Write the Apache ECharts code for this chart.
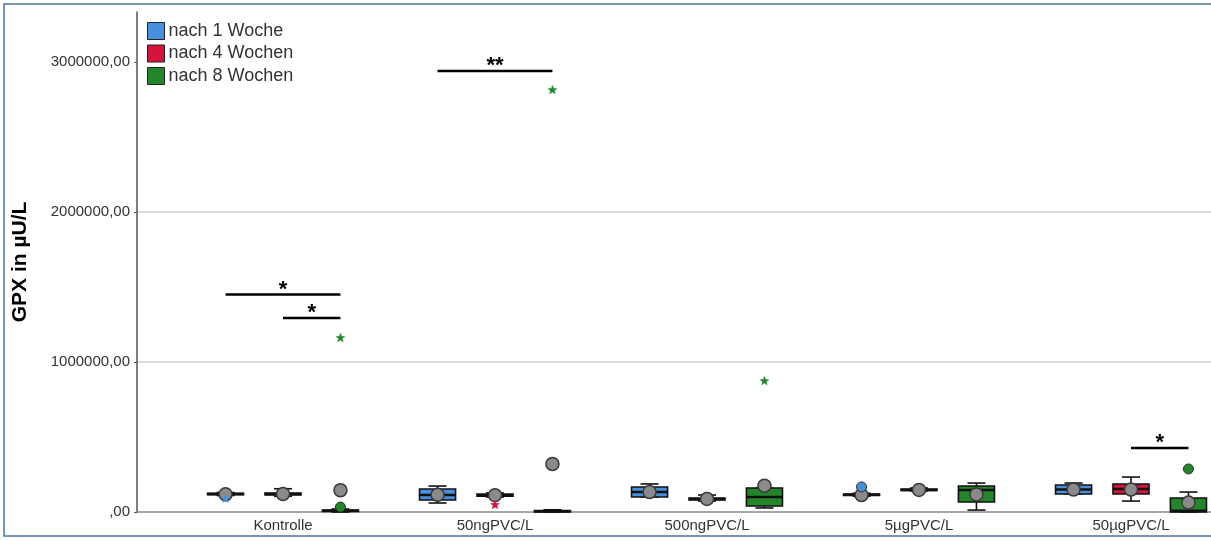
<!DOCTYPE html>
<html><head><meta charset="utf-8">
<script src="https://cdn.jsdelivr.net/npm/echarts@6/dist/echarts.min.js"></script>
<style>html,body{margin:0;padding:0;background:#fff}#c{width:1211px;height:541px}</style>
</head><body><div id="c"></div>
<script>
// ---------- DATA ----------
const categories = ['Kontrolle', '50ngPVC/L', '500ngPVC/L', '5µgPVC/L', '50µgPVC/L'];
const seriesNames = ['nach 1 Woche', 'nach 4 Wochen', 'nach 8 Wochen'];
const yTicks = [0, 1000000, 2000000, 3000000];
const yMax = 3333333;

// box stats per category: [min, q1, median, q3, max]
const boxWeek1 = [
  [110000, 115000, 120000, 125000, 130000],
  [60000, 80000, 113000, 153000, 173000],
  [100000, 100000, 133000, 167000, 187000],
  [105000, 110000, 115000, 120000, 125000],
  [120000, 120000, 150000, 180000, 193000]
];
const boxWeek4 = [
  [105000, 113000, 120000, 127000, 155000],
  [100000, 105000, 112000, 120000, 127000],
  [73000, 80000, 87000, 93000, 113000],
  [140000, 143000, 147000, 153000, 160000],
  [73000, 120000, 153000, 187000, 233000]
];
const boxWeek8 = [
  [0, 3000, 8000, 13000, 20000],
  [0, 2000, 5000, 10000, 15000],
  [27000, 40000, 100000, 160000, 160000],
  [13000, 67000, 147000, 173000, 193000],
  [0, 0, 8000, 93000, 133000]
];
const meanWeek1 = [118000, 115000, 133000, 113000, 150000];
const meanWeek4 = [120000, 112000, 87000, 147000, 150000];
const meanWeek8 = [145000, 320000, 175000, 117000, 63000];

// outliers (circles) and extremes (stars): [categoryIndex, value]
const outliersWeek1 = [[3, 167000]];
const outliersWeek4 = [];
const outliersWeek8 = [[0, 33000], [4, 287000]];
const extremesWeek1 = [[0, 88000]];
const extremesWeek4 = [[1, 47000]];
const extremesWeek8 = [[0, 1160000], [1, 2813000], [2, 873000]];

// significance brackets: [categoryIndex, fromSeries, toSeries, value, label]
const brackets = [
  [0, 0, 2, 1450000, '*'],
  [0, 1, 2, 1293000, '*'],
  [1, 0, 2, 2940000, '**'],
  [4, 1, 2, 427000, '*']
];

// ---------- STYLE ----------
const colors = ['#4a8fdc', '#d4143c', '#23872a'];
const boxes = [boxWeek1, boxWeek4, boxWeek8];
const means = [meanWeek1, meanWeek4, meanWeek8];
const outliers = [outliersWeek1, outliersWeek4, outliersWeek8];
const extremes = [extremesWeek1, extremesWeek4, extremesWeek8];
const FONT = "'Liberation Sans', Arial, sans-serif";
const OFF = 0.271, BW = 0.17;

function centerX(api, cat, k) {
  const band = api.size([1, 0])[0];
  return api.coord([cat, 0])[0] + (k - 1) * OFF * band;
}

function boxSeries(k) {
  return {
    type: 'custom', name: seriesNames[k], xAxisIndex: 1, yAxisIndex: 1, z: 3,
    itemStyle: { color: colors[k], borderColor: '#222', borderWidth: 1 },
    data: categories.map((c, i) => [i].concat(boxes[k][i]).concat([means[k][i]])),
    renderItem: function (params, api) {
      const cat = api.value(0);
      const band = api.size([1, 0])[0];
      const cx = centerX(api, cat, k);
      const w = BW * band;
      const Y = v => api.coord([cat, v])[1];
      const mn = Y(api.value(1)), q1 = Y(api.value(2)), md = Y(api.value(3)),
            q3 = Y(api.value(4)), mx = Y(api.value(5)), mean = Y(api.value(6));
      const ls = { stroke: '#111', lineWidth: 1.6 };
      const ch = [];
      ch.push({ type: 'line', shape: { x1: cx, y1: mx, x2: cx, y2: q3 }, style: ls });
      ch.push({ type: 'line', shape: { x1: cx, y1: q1, x2: cx, y2: mn }, style: ls });
      ch.push({ type: 'line', shape: { x1: cx - w / 4, y1: mx, x2: cx + w / 4, y2: mx }, style: ls });
      ch.push({ type: 'line', shape: { x1: cx - w / 4, y1: mn, x2: cx + w / 4, y2: mn }, style: ls });
      const h = Math.max(q1 - q3, 1.5);
      ch.push({ type: 'rect', shape: { x: cx - w / 2, y: q3, width: w, height: h },
        style: { fill: colors[k], stroke: '#111', lineWidth: 1.6 } });
      ch.push({ type: 'line', shape: { x1: cx - w / 2, y1: md, x2: cx + w / 2, y2: md },
        style: { stroke: '#111', lineWidth: 2.6 } });
      ch.push({ type: 'circle', shape: { cx: cx, cy: mean, r: 6.5 },
        style: { fill: '#8a8a8a', stroke: '#3a3a3a', lineWidth: 1.5 } });
      return { type: 'group', children: ch };
    }
  };
}

function starPoints(cx, cy, R, r) {
  const pts = [];
  for (let i = 0; i < 10; i++) {
    const a = -Math.PI / 2 + i * Math.PI / 5;
    const rad = i % 2 === 0 ? R : r;
    pts.push([cx + rad * Math.cos(a), cy + rad * Math.sin(a)]);
  }
  return pts;
}

function pointSeries(k) {
  const data = outliers[k].map(d => [d[0], d[1], 0]).concat(extremes[k].map(d => [d[0], d[1], 1]));
  return {
    type: 'custom', name: seriesNames[k], xAxisIndex: 1, yAxisIndex: 1, z: 4,
    itemStyle: { color: colors[k], borderColor: '#222', borderWidth: 1 },
    data: data,
    renderItem: function (params, api) {
      const cat = api.value(0);
      const cx = centerX(api, cat, k);
      const cy = api.coord([cat, api.value(1)])[1];
      if (api.value(2) === 0) {
        return { type: 'circle', shape: { cx: cx, cy: cy, r: 5 },
          style: { fill: colors[k], stroke: '#2a2a2a', lineWidth: 1 } };
      }
      return { type: 'polygon', shape: { points: starPoints(cx, cy, 4.6, 2.0) },
        style: { fill: colors[k], stroke: colors[k], lineWidth: 0.5 } };
    }
  };
}

const bracketSeries = {
  type: 'custom', name: 'sig', xAxisIndex: 1, yAxisIndex: 1, z: 5,
  data: brackets,
  renderItem: function (params, api) {
    const cat = api.value(0);
    const x1 = centerX(api, cat, api.value(1));
    const x2 = centerX(api, cat, api.value(2));
    const y = api.coord([cat, api.value(3)])[1];
    const label = brackets[params.dataIndex][4];
    return { type: 'group', children: [
      { type: 'line', shape: { x1: x1, y1: y, x2: x2, y2: y }, style: { stroke: '#000', lineWidth: 2.6 } },
      { type: 'text', x: (x1 + x2) / 2, y: y + 6,
        style: { text: label, fill: '#000', font: 'bold 22px ' + FONT, align: 'center', verticalAlign: 'bottom' } }
    ] };
  }
};

const chart = echarts.init(document.getElementById('c'), null, { renderer: 'canvas' });
chart.setOption({
  backgroundColor: '#ffffff',
  animation: false,
  textStyle: { fontFamily: FONT },
  graphic: [{ type: 'rect', shape: { x: 4, y: 4, width: 1240, height: 532 },
    style: { fill: 'none', stroke: '#46769c', lineWidth: 1.5 }, z: 0 }],
  legend: {
    orient: 'vertical', left: 147, top: 22, padding: 0, itemWidth: 17, itemHeight: 17, itemGap: 4.5,
    selectedMode: false,
    textStyle: { fontSize: 18, color: '#333', fontFamily: FONT, padding: [0, 0, 0, -1] },
    data: seriesNames.map((n, k) => ({ name: n, icon: 'rect',
      itemStyle: { color: colors[k], borderColor: '#222', borderWidth: 1 } }))
  },
  grid: [
    { left: 137, right: 0, top: 12, bottom: 29, containLabel: false, outerBoundsMode: 'none' },
    { left: 177, width: 1060, top: 12, bottom: 29, containLabel: false, outerBoundsMode: 'none' }
  ],
  xAxis: [
    { type: 'category', gridIndex: 0, data: categories,
      axisLine: { lineStyle: { color: '#8a8a8a', width: 1.5 } },
      axisTick: { show: false }, axisLabel: { show: false }, splitLine: { show: false } },
    { type: 'category', gridIndex: 1, data: categories,
      axisLine: { show: false }, axisTick: { show: false }, splitLine: { show: false },
      axisLabel: { fontSize: 15, color: '#333', margin: 6, fontFamily: FONT } }
  ],
  yAxis: [
    { type: 'value', gridIndex: 0, min: 0, max: yMax, interval: 1000000,
      name: 'GPX in µU/L', nameLocation: 'middle', nameGap: 106, nameRotate: 90,
      nameTextStyle: { fontSize: 21, fontWeight: 'bold', color: '#000', fontFamily: FONT },
      axisLine: { show: true, lineStyle: { color: '#555', width: 1.5 } },
      axisTick: { show: true, length: 3, lineStyle: { color: '#555' },
        customValues: yTicks },
      axisLabel: { fontSize: 15, color: '#333', margin: 7, fontFamily: FONT,
        showMaxLabel: false,
        formatter: v => (yTicks.indexOf(v) >= 0 ? (v === 0 ? ',00' : v + ',00') : '') },
      splitLine: { show: true, showMaxLine: false, showMinLine: false,
        lineStyle: { color: '#cfcfcf', width: 1.5 } } },
    { type: 'value', gridIndex: 1, min: 0, max: yMax, show: false }
  ],
  series: [boxSeries(0), boxSeries(1), boxSeries(2),
           pointSeries(0), pointSeries(1), pointSeries(2), bracketSeries]
});
</script>
</body></html>
